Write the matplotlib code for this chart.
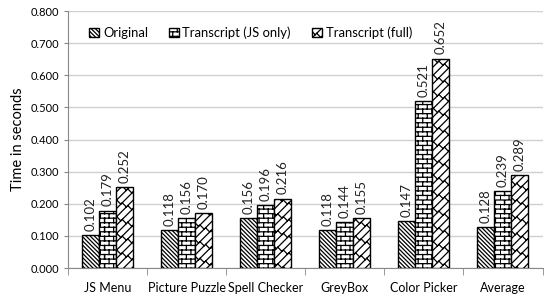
import warnings
warnings.filterwarnings("ignore")
import numpy as np
import matplotlib
matplotlib.use("Agg")
import matplotlib.pyplot as plt
import matplotlib.hatch as mhatch
from matplotlib.path import Path

categories = ["JS Menu", "Picture Puzzle", "Spell Checker", "GreyBox", "Color Picker", "Average"]
series_names = ["Original", "Transcript (JS only)", "Transcript (full)"]
original = [0.102, 0.118, 0.156, 0.118, 0.147, 0.128]
js_only = [0.179, 0.156, 0.196, 0.144, 0.521, 0.239]
full = [0.252, 0.170, 0.216, 0.155, 0.652, 0.289]
y_ticks = [0.0, 0.1, 0.2, 0.3, 0.4, 0.5, 0.6, 0.7, 0.8]


class _SegHatch(mhatch.HatchPatternBase):
    char = '?'

    def __init__(self, hatch, density):
        self.on = hatch.count(self.char) > 0
        self.segs = self.make_segments() if self.on else []
        self.num_vertices = 2 * len(self.segs)

    def set_vertices_and_codes(self, vertices, codes):
        v = np.array(self.segs, dtype=float).reshape(-1, 2)
        vertices[:] = v
        codes[0::2] = Path.MOVETO
        codes[1::2] = Path.LINETO


class BrickHatch(_SegHatch):
    char = 'b'
    rows, cols = 22, 11

    def make_segments(self):
        segs = []
        for i in range(self.rows + 1):
            y = i / self.rows
            segs.append([(0.0, y), (1.0, y)])
        for i in range(self.rows):
            y0, y1 = i / self.rows, (i + 1) / self.rows
            off = 0.5 / self.cols if i % 2 else 0.0
            for j in range(self.cols + 1):
                xx = (j / self.cols + off) % 1.0
                segs.append([(xx, y0), (xx, y1)])
        return segs


class DiagBrickHatch(_SegHatch):
    char = 'd'
    n, m = 12, 9

    def make_segments(self):
        n, m = self.n, self.m
        segs = []
        for k in range(-n, n + 1):
            c = k / n
            segs.append([(0.0, c), (1.0, 1.0 + c)])
        for k in range(-n - 1, n + 1):
            c = k / n
            off = 0.5 / m if k % 2 else 0.0
            for j in range(-m, 2 * m + 1):
                t = j / m + off
                p0 = (t, t + c + 1 / n)
                p1 = (t + 0.5 / n, t + c + 0.5 / n)
                if max(p0[0], p1[0]) < -0.1 or min(p0[0], p1[0]) > 1.1:
                    continue
                if max(p0[1], p1[1]) < -0.1 or min(p0[1], p1[1]) > 1.1:
                    continue
                segs.append([p0, p1])
        return segs


mhatch._hatch_types.append(BrickHatch)
mhatch._hatch_types.append(DiagBrickHatch)

plt.rcParams['font.family'] = ['Lato', 'DejaVu Sans']
plt.rcParams['hatch.linewidth'] = 0.9

fig = plt.figure(figsize=(5.48, 2.95), dpi=100)
ax = fig.add_axes([0.124, 0.0915, 0.866, 0.871])

x = np.arange(len(categories))
w = 0.215
hatches = ['\\' * 8, 'b', 'd']
data = [original, js_only, full]
for k, (vals, h, name) in enumerate(zip(data, hatches, series_names)):
    ax.bar(x + (k - 1) * w, vals, w, color='white', edgecolor='black',
           linewidth=1.0, hatch=h, label=name, zorder=3)
    for xi, v in zip(x + (k - 1) * w, vals):
        ax.annotate(f"{v:.3f}", (xi, v), xytext=(0, 3), textcoords='offset points',
                    rotation=90, ha='center', va='bottom', fontsize=9.5, color='#222222')

ax.set_xlim(-0.5, len(categories) - 0.5)
ax.set_ylim(0, 0.8)
ax.set_yticks(y_ticks)
ax.set_yticklabels([f"{t:.3f}" for t in y_ticks], fontsize=8)
ax.set_xticks(x)
ax.set_xticklabels(categories, fontsize=9)
ax.tick_params(axis='x', length=0, pad=10)
ax.tick_params(axis='y', length=3, color='#888888', pad=3)
ax.set_xticks(np.arange(len(categories) + 1) - 0.5, minor=True)
ax.tick_params(axis='x', which='minor', length=5, color='#888888')
ax.yaxis.grid(True, color='#d0d0d0', linewidth=1.0, zorder=0)
ax.set_axisbelow(True)
for s in ['top', 'right']:
    ax.spines[s].set_visible(False)
ax.spines['left'].set_color('#888888')
ax.spines['bottom'].set_color('#888888')
ax.set_ylabel("Time in seconds", fontsize=10.5)

ax.legend(loc='upper left', bbox_to_anchor=(0.02, 0.985), ncol=3, frameon=False,
          fontsize=9.4, handlelength=0.75, handleheight=0.75, handletextpad=0.3,
          columnspacing=1.6)

fig.savefig("out.png", dpi=100)
